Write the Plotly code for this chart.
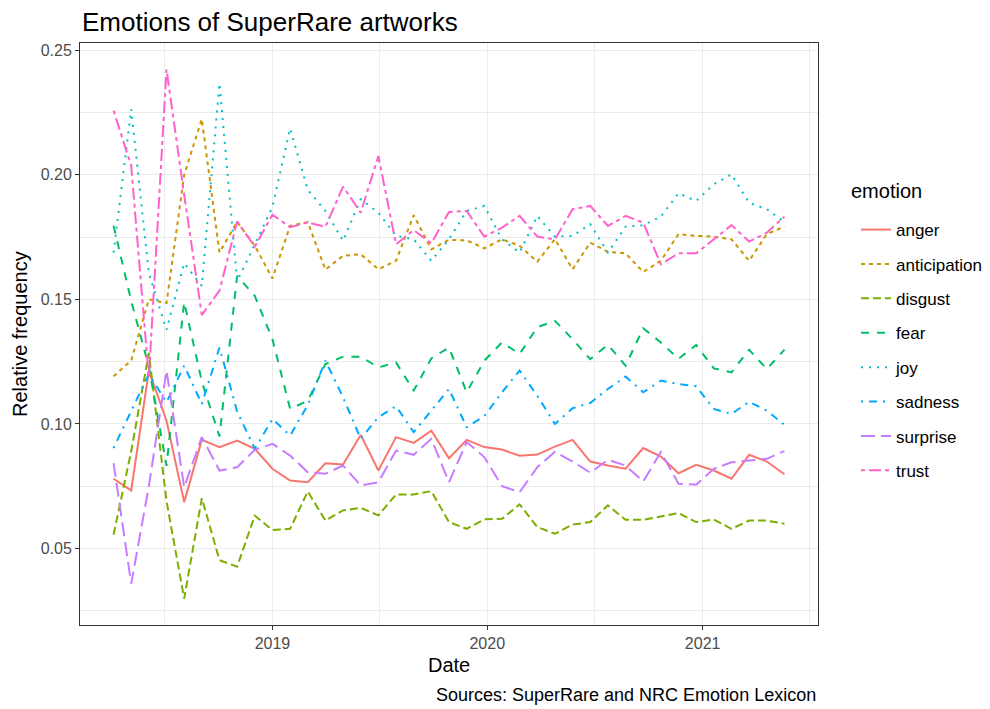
import plotly.graph_objects as go

dates = [
    "2018-04-06", "2018-05-06", "2018-06-05", "2018-07-05", "2018-08-04", "2018-09-03",
    "2018-10-03", "2018-11-02", "2018-12-02", "2019-01-01", "2019-01-31", "2019-03-02",
    "2019-04-01", "2019-05-01", "2019-05-31", "2019-06-30", "2019-07-30", "2019-08-29",
    "2019-09-28", "2019-10-28", "2019-11-27", "2019-12-27", "2020-01-26", "2020-02-25",
    "2020-03-26", "2020-04-25", "2020-05-25", "2020-06-24", "2020-07-24", "2020-08-23",
    "2020-09-22", "2020-10-22", "2020-11-21", "2020-12-21", "2021-01-20", "2021-02-19",
    "2021-03-21", "2021-04-20", "2021-05-20",
]

anger = [0.0780, 0.0733, 0.1214, 0.1013, 0.0686, 0.0936, 0.0907, 0.0933, 0.0900, 0.0820,
         0.0773, 0.0766, 0.0842, 0.0837, 0.0956, 0.0813, 0.0947, 0.0924, 0.0973, 0.0862,
         0.0936, 0.0907, 0.0897, 0.0872, 0.0877, 0.0909, 0.0936, 0.0849, 0.0833, 0.0820,
         0.0903, 0.0869, 0.0802, 0.0836, 0.0813, 0.0780, 0.0876, 0.0849, 0.0798]
anticipation = [0.1191, 0.1255, 0.1500, 0.1485, 0.2000, 0.2224, 0.1688, 0.1811, 0.1715, 0.1584,
                0.1795, 0.1810, 0.1619, 0.1675, 0.1681, 0.1621, 0.1655, 0.1838, 0.1701, 0.1739,
                0.1737, 0.1705, 0.1741, 0.1715, 0.1651, 0.1742, 0.1621, 0.1728, 0.1691, 0.1685,
                0.1610, 0.1655, 0.1762, 0.1755, 0.1752, 0.1741, 0.1655, 0.1762, 0.1792]
disgust = [0.0555, 0.0890, 0.1285, 0.0690, 0.0299, 0.0702, 0.0453, 0.0427, 0.0632, 0.0574,
           0.0579, 0.0729, 0.0612, 0.0653, 0.0663, 0.0633, 0.0717, 0.0717, 0.0730, 0.0606,
           0.0579, 0.0617, 0.0619, 0.0677, 0.0586, 0.0559, 0.0596, 0.0606, 0.0673, 0.0615,
           0.0615, 0.0630, 0.0642, 0.0606, 0.0616, 0.0579, 0.0612, 0.0612, 0.0599]
fear = [0.1796, 0.1494, 0.1230, 0.0832, 0.1489, 0.1170, 0.0950, 0.1594, 0.1514, 0.1340,
        0.1060, 0.1093, 0.1240, 0.1270, 0.1270, 0.1227, 0.1247, 0.1134, 0.1263, 0.1307,
        0.1127, 0.1254, 0.1327, 0.1281, 0.1388, 0.1414, 0.1340, 0.1260, 0.1318, 0.1234,
        0.1384, 0.1327, 0.1261, 0.1317, 0.1223, 0.1207, 0.1298, 0.1220, 0.1298]
joy = [0.1688, 0.2263, 0.1605, 0.1378, 0.1645, 0.1554, 0.2367, 0.1574, 0.1720, 0.1871,
       0.2186, 0.1940, 0.1855, 0.1735, 0.1902, 0.1848, 0.1755, 0.1741, 0.1655, 0.1741,
       0.1855, 0.1875, 0.1741, 0.1688, 0.1835, 0.1752, 0.1755, 0.1802, 0.1688, 0.1792,
       0.1798, 0.1832, 0.1926, 0.1895, 0.1962, 0.2002, 0.1888, 0.1862, 0.1811]
sadness = [0.0903, 0.1053, 0.1200, 0.1087, 0.1234, 0.1080, 0.1307, 0.1050, 0.0900, 0.1020,
           0.0953, 0.1076, 0.1254, 0.1107, 0.0940, 0.1027, 0.1071, 0.0967, 0.1053, 0.1140,
           0.0987, 0.1031, 0.1127, 0.1214, 0.1113, 0.1000, 0.1063, 0.1084, 0.1140, 0.1190,
           0.1127, 0.1174, 0.1160, 0.1151, 0.1060, 0.1040, 0.1089, 0.1053, 0.0996]
surprise = [0.0843, 0.0359, 0.0750, 0.1214, 0.0746, 0.0947, 0.0813, 0.0826, 0.0896, 0.0920,
            0.0873, 0.0806, 0.0800, 0.0833, 0.0753, 0.0766, 0.0893, 0.0876, 0.0940, 0.0766,
            0.0927, 0.0867, 0.0750, 0.0726, 0.0826, 0.0888, 0.0849, 0.0804, 0.0856, 0.0833,
            0.0769, 0.0887, 0.0760, 0.0756, 0.0820, 0.0846, 0.0853, 0.0860, 0.0891]
trust = [0.2258, 0.2036, 0.1185, 0.2423, 0.1920, 0.1437, 0.1535, 0.1813, 0.1712, 0.1840,
         0.1790, 0.1809, 0.1791, 0.1953, 0.1848, 0.2075, 0.1721, 0.1778, 0.1725, 0.1851,
         0.1855, 0.1752, 0.1788, 0.1835, 0.1752, 0.1741, 0.1862, 0.1875, 0.1795, 0.1835,
         0.1808, 0.1641, 0.1685, 0.1685, 0.1741, 0.1798, 0.1732, 0.1768, 0.1832]

emotions = ["anger", "anticipation", "disgust", "fear", "joy", "sadness", "surprise", "trust"]
series = [anger, anticipation, disgust, fear, joy, sadness, surprise, trust]
colors = ["#F8766D", "#CD9600", "#7CAE00", "#00BE67", "#00BFC4", "#00A9FF", "#C77CFF", "#FF61CC"]
dashes = ["solid", "4px,4px", "8px,4px", "8px,8px", "2px,6px", "2px,6px,8px,6px", "14px,6px", "4px,4px,12px,4px"]

x_ticks = ["2019-01-01", "2020-01-01", "2021-01-01"]
x_ticklabels = ["2019", "2020", "2021"]
x_minor = ["2018-07-02", "2019-07-02", "2020-07-02", "2021-07-02"]
y_ticks = [0.05, 0.10, 0.15, 0.20, 0.25]
y_ticklabels = ["0.05", "0.10", "0.15", "0.20", "0.25"]
y_minor = [0.025, 0.075, 0.125, 0.175, 0.225]

FONT = "Liberation Sans, Arial, sans-serif"
OFF = 8  # page body margin in the browser
W, H = 990 - OFF, 709 - OFF
L, T = 80 - OFF, 43 - OFF
R = W - (818 - OFF)
B = H - (625 - OFF)
PW, PH = W - L - R, H - T - B


def px_x(px):
    return (px - OFF - L) / PW


def px_y(py):
    return (H - B - (py - OFF)) / PH


fig = go.Figure()
for name, vals, col, dsh in zip(emotions, series, colors, dashes):
    fig.add_trace(go.Scatter(
        x=dates, y=vals, mode="lines", name=name, legendgroup=name,
        line=dict(color=col, width=2, dash=dsh),
    ))

grid = "#EBEBEB"
axis_common = dict(
    showgrid=True, gridcolor=grid, gridwidth=1.4,
    showline=True, mirror=True, linecolor="#333333", linewidth=1,
    ticks="outside", ticklen=4, tickcolor="#333333", tickwidth=1,
    tickfont=dict(size=16, color="#4D4D4D"),
    zeroline=False, automargin=False,
)
fig.update_layout(
    width=W, height=H,
    margin=dict(l=L, r=R, t=T, b=B, autoexpand=False),
    paper_bgcolor="white", plot_bgcolor="white",
    font=dict(family=FONT, color="black"),
    title=dict(text="Emotions of SuperRare artworks", x=(82 - OFF) / W, xanchor="left",
               y=1 - (22 - OFF) / H, yanchor="middle", yref="container",
               font=dict(size=26, color="black")),
    xaxis=dict(
        type="date", range=["2018-02-08", "2021-07-16"],
        tickmode="array", tickvals=x_ticks, ticktext=x_ticklabels,
        minor=dict(tickmode="array", tickvals=x_minor, showgrid=True, gridcolor=grid, gridwidth=0.7, ticks=""),
        **axis_common,
    ),
    yaxis=dict(
        range=[0.01928, 0.25292],
        tickmode="array", tickvals=y_ticks, ticktext=y_ticklabels,
        minor=dict(tickmode="array", tickvals=y_minor, showgrid=True, gridcolor=grid, gridwidth=0.7, ticks=""),
        **axis_common,
    ),
    legend=dict(
        font=dict(size=17, color="black"),
        x=px_x(856), xanchor="left", y=px_y(212), yanchor="top",
        bgcolor="rgba(0,0,0,0)", tracegroupgap=9.3, itemwidth=30,
    ),
    showlegend=True,
    annotations=[
        dict(text="Date", xref="paper", yref="paper", x=0.5, xanchor="center",
             y=px_y(665), yanchor="middle", showarrow=False, font=dict(size=20, color="black")),
        dict(text="Relative frequency", xref="paper", yref="paper", x=px_x(20), xanchor="center",
             y=0.5, yanchor="middle", textangle=-90, showarrow=False, font=dict(size=20, color="black")),
        dict(text="emotion", xref="paper", yref="paper", x=px_x(849), xanchor="left",
             y=px_y(191), yanchor="middle", showarrow=False, font=dict(size=20, color="black")),
        dict(text="Sources: SuperRare and NRC Emotion Lexicon", xref="paper", yref="paper",
             x=1, xanchor="right", y=px_y(695), yanchor="middle", showarrow=False,
             font=dict(size=18, color="black")),
    ],
)

fig.write_html("out.html")
